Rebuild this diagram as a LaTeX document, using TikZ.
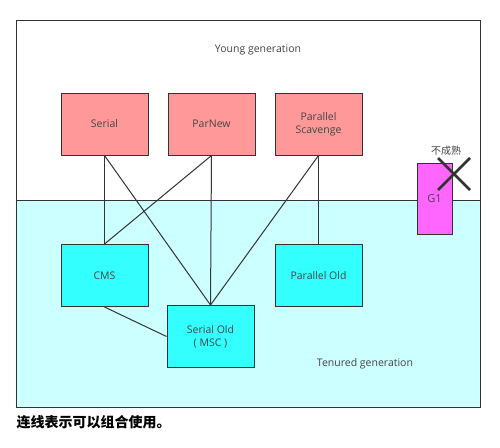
\documentclass[tikz,border=0pt]{standalone}
\usepackage{fontspec}
\setmainfont{Open Sans}
\newfontfamily\cjk{Noto Sans CJK SC}
\usepackage{xcolor}
\usetikzlibrary{positioning}
\definecolor{youngred}{HTML}{FF9999}
\definecolor{oldcyan}{HTML}{33FFFF}
\definecolor{tenuredbg}{HTML}{CCFFFF}
\definecolor{gonepink}{HTML}{FF66FF}
\definecolor{linegray}{HTML}{333333}
\definecolor{textgray}{HTML}{444444}

\begin{document}
\begin{tikzpicture}[x=1pt,y=-1pt,every node/.style={font=\fontsize{10.5}{13}\selectfont,text=textgray},
  gcbox/.style={draw=linegray,line width=1pt,minimum width=87pt,minimum height=62pt,align=center,inner sep=0pt},
  link/.style={draw=linegray,line width=1pt}]
\useasboundingbox (0,0) rectangle (500,447);
% generations
\fill[tenuredbg] (16,200) rectangle (480,407);
\draw[link] (16,200) -- (480,200);
\draw[link] (16,20) rectangle (480,407);
\node (young) at (258,50) {Young generation};
\node (tenured) at (365,364) {Tenured generation};
% collectors
\node[gcbox,fill=youngred] (serial) at (104.5,124) {Serial};
\node[gcbox,fill=youngred] (parnew) at (211.5,124) {ParNew};
\node[gcbox,fill=youngred] (scavenge) at (318.5,124) {Parallel\\Scavenge};
\node[gcbox,fill=oldcyan] (cms) at (104.5,275.5) {CMS};
\node[gcbox,fill=oldcyan] (serialold) at (210.5,336.5) {Serial Old\\( MSC )};
\node[gcbox,fill=oldcyan] (parold) at (318.5,275.5) {Parallel Old};
\node[draw=linegray,line width=1pt,fill=gonepink,minimum width=35pt,minimum height=71pt,inner sep=0pt,font=\fontsize{11}{13}\selectfont] (g1) at (434.5,198.5) {G1};
\node (immature) at (446,151) {\cjk\fontsize{10}{12}\selectfont 不成熟};
% combinations
\draw[link] (serial.south) -- (cms.north);
\draw[link] (serial.south) -- (serialold.north);
\draw[link] (parnew.south) -- (cms.north);
\draw[link] (parnew.south) -- (serialold.north);
\draw[link] (scavenge.south) -- (serialold.north);
\draw[link] (scavenge.south) -- (parold.north);
\draw[link] (cms.south) -- (serialold.west);
% not ready
\coordinate (xa) at (438,158);
\coordinate (xb) at (470,190);
\coordinate (xc) at (438,190);
\coordinate (xd) at (470,158);
\draw[linegray,line width=2.5pt] (xa) -- (xb) (xc) -- (xd);
\node[anchor=west,text=black,font=\fontsize{14}{16}\selectfont\cjk\bfseries] (note) at (13,422) {连线表示可以组合使用。};
\end{tikzpicture}
\end{document}
